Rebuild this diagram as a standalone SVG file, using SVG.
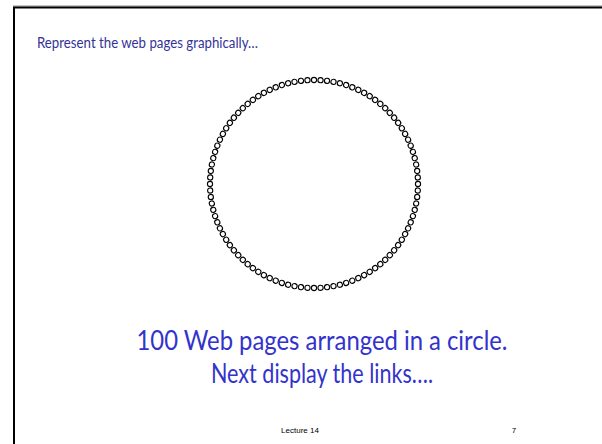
<svg xmlns="http://www.w3.org/2000/svg" xmlns:xlink="http://www.w3.org/1999/xlink" width="602" height="444" viewBox="0 0 602 444">
<style>
.title{font-family:Lato,"Liberation Sans",Arial,sans-serif;font-size:15.5px;fill:#333399}
.main{font-family:Lato,"Liberation Sans",Arial,sans-serif;font-size:26px;fill:#3333cc;text-anchor:middle}
.foot{font-family:"Liberation Sans",Arial,sans-serif;font-size:8px;fill:#000}
.node{fill:#fff;stroke:#000;stroke-width:1.1}
</style>
<defs>
<circle id="n" class="node" cx="314" cy="80" r="2.6"/>
</defs>
<rect x="0" y="0" width="602" height="444" fill="#fff"/>
<line x1="13" y1="6" x2="602" y2="6" stroke="#888" stroke-width="1"/>
<rect x="14" y="7.5" width="600" height="460" fill="none" stroke="#000" stroke-width="2"/>
<text class="title" x="37" y="48" textLength="221" lengthAdjust="spacingAndGlyphs">Represent the web pages graphically…</text>
<g id="pages">
<use xlink:href="#n" transform="rotate(0 314 184)"/><use xlink:href="#n" transform="rotate(3.6 314 184)"/><use xlink:href="#n" transform="rotate(7.2 314 184)"/><use xlink:href="#n" transform="rotate(10.8 314 184)"/><use xlink:href="#n" transform="rotate(14.4 314 184)"/><use xlink:href="#n" transform="rotate(18 314 184)"/><use xlink:href="#n" transform="rotate(21.6 314 184)"/><use xlink:href="#n" transform="rotate(25.2 314 184)"/><use xlink:href="#n" transform="rotate(28.8 314 184)"/><use xlink:href="#n" transform="rotate(32.4 314 184)"/>
<use xlink:href="#n" transform="rotate(36 314 184)"/><use xlink:href="#n" transform="rotate(39.6 314 184)"/><use xlink:href="#n" transform="rotate(43.2 314 184)"/><use xlink:href="#n" transform="rotate(46.8 314 184)"/><use xlink:href="#n" transform="rotate(50.4 314 184)"/><use xlink:href="#n" transform="rotate(54 314 184)"/><use xlink:href="#n" transform="rotate(57.6 314 184)"/><use xlink:href="#n" transform="rotate(61.2 314 184)"/><use xlink:href="#n" transform="rotate(64.8 314 184)"/><use xlink:href="#n" transform="rotate(68.4 314 184)"/>
<use xlink:href="#n" transform="rotate(72 314 184)"/><use xlink:href="#n" transform="rotate(75.6 314 184)"/><use xlink:href="#n" transform="rotate(79.2 314 184)"/><use xlink:href="#n" transform="rotate(82.8 314 184)"/><use xlink:href="#n" transform="rotate(86.4 314 184)"/><use xlink:href="#n" transform="rotate(90 314 184)"/><use xlink:href="#n" transform="rotate(93.6 314 184)"/><use xlink:href="#n" transform="rotate(97.2 314 184)"/><use xlink:href="#n" transform="rotate(100.8 314 184)"/><use xlink:href="#n" transform="rotate(104.4 314 184)"/>
<use xlink:href="#n" transform="rotate(108 314 184)"/><use xlink:href="#n" transform="rotate(111.6 314 184)"/><use xlink:href="#n" transform="rotate(115.2 314 184)"/><use xlink:href="#n" transform="rotate(118.8 314 184)"/><use xlink:href="#n" transform="rotate(122.4 314 184)"/><use xlink:href="#n" transform="rotate(126 314 184)"/><use xlink:href="#n" transform="rotate(129.6 314 184)"/><use xlink:href="#n" transform="rotate(133.2 314 184)"/><use xlink:href="#n" transform="rotate(136.8 314 184)"/><use xlink:href="#n" transform="rotate(140.4 314 184)"/>
<use xlink:href="#n" transform="rotate(144 314 184)"/><use xlink:href="#n" transform="rotate(147.6 314 184)"/><use xlink:href="#n" transform="rotate(151.2 314 184)"/><use xlink:href="#n" transform="rotate(154.8 314 184)"/><use xlink:href="#n" transform="rotate(158.4 314 184)"/><use xlink:href="#n" transform="rotate(162 314 184)"/><use xlink:href="#n" transform="rotate(165.6 314 184)"/><use xlink:href="#n" transform="rotate(169.2 314 184)"/><use xlink:href="#n" transform="rotate(172.8 314 184)"/><use xlink:href="#n" transform="rotate(176.4 314 184)"/>
<use xlink:href="#n" transform="rotate(180 314 184)"/><use xlink:href="#n" transform="rotate(183.6 314 184)"/><use xlink:href="#n" transform="rotate(187.2 314 184)"/><use xlink:href="#n" transform="rotate(190.8 314 184)"/><use xlink:href="#n" transform="rotate(194.4 314 184)"/><use xlink:href="#n" transform="rotate(198 314 184)"/><use xlink:href="#n" transform="rotate(201.6 314 184)"/><use xlink:href="#n" transform="rotate(205.2 314 184)"/><use xlink:href="#n" transform="rotate(208.8 314 184)"/><use xlink:href="#n" transform="rotate(212.4 314 184)"/>
<use xlink:href="#n" transform="rotate(216 314 184)"/><use xlink:href="#n" transform="rotate(219.6 314 184)"/><use xlink:href="#n" transform="rotate(223.2 314 184)"/><use xlink:href="#n" transform="rotate(226.8 314 184)"/><use xlink:href="#n" transform="rotate(230.4 314 184)"/><use xlink:href="#n" transform="rotate(234 314 184)"/><use xlink:href="#n" transform="rotate(237.6 314 184)"/><use xlink:href="#n" transform="rotate(241.2 314 184)"/><use xlink:href="#n" transform="rotate(244.8 314 184)"/><use xlink:href="#n" transform="rotate(248.4 314 184)"/>
<use xlink:href="#n" transform="rotate(252 314 184)"/><use xlink:href="#n" transform="rotate(255.6 314 184)"/><use xlink:href="#n" transform="rotate(259.2 314 184)"/><use xlink:href="#n" transform="rotate(262.8 314 184)"/><use xlink:href="#n" transform="rotate(266.4 314 184)"/><use xlink:href="#n" transform="rotate(270 314 184)"/><use xlink:href="#n" transform="rotate(273.6 314 184)"/><use xlink:href="#n" transform="rotate(277.2 314 184)"/><use xlink:href="#n" transform="rotate(280.8 314 184)"/><use xlink:href="#n" transform="rotate(284.4 314 184)"/>
<use xlink:href="#n" transform="rotate(288 314 184)"/><use xlink:href="#n" transform="rotate(291.6 314 184)"/><use xlink:href="#n" transform="rotate(295.2 314 184)"/><use xlink:href="#n" transform="rotate(298.8 314 184)"/><use xlink:href="#n" transform="rotate(302.4 314 184)"/><use xlink:href="#n" transform="rotate(306 314 184)"/><use xlink:href="#n" transform="rotate(309.6 314 184)"/><use xlink:href="#n" transform="rotate(313.2 314 184)"/><use xlink:href="#n" transform="rotate(316.8 314 184)"/><use xlink:href="#n" transform="rotate(320.4 314 184)"/>
<use xlink:href="#n" transform="rotate(324 314 184)"/><use xlink:href="#n" transform="rotate(327.6 314 184)"/><use xlink:href="#n" transform="rotate(331.2 314 184)"/><use xlink:href="#n" transform="rotate(334.8 314 184)"/><use xlink:href="#n" transform="rotate(338.4 314 184)"/><use xlink:href="#n" transform="rotate(342 314 184)"/><use xlink:href="#n" transform="rotate(345.6 314 184)"/><use xlink:href="#n" transform="rotate(349.2 314 184)"/><use xlink:href="#n" transform="rotate(352.8 314 184)"/><use xlink:href="#n" transform="rotate(356.4 314 184)"/>
</g>
<text class="main" x="322" y="350" textLength="371" lengthAdjust="spacingAndGlyphs">100 Web pages arranged in a circle.</text>
<text class="main" x="322" y="383" textLength="222" lengthAdjust="spacingAndGlyphs">Next display the links….</text>
<text class="foot" x="300" y="433" text-anchor="middle">Lecture 14</text>
<text class="foot" x="514" y="433" text-anchor="middle">7</text>
</svg>
